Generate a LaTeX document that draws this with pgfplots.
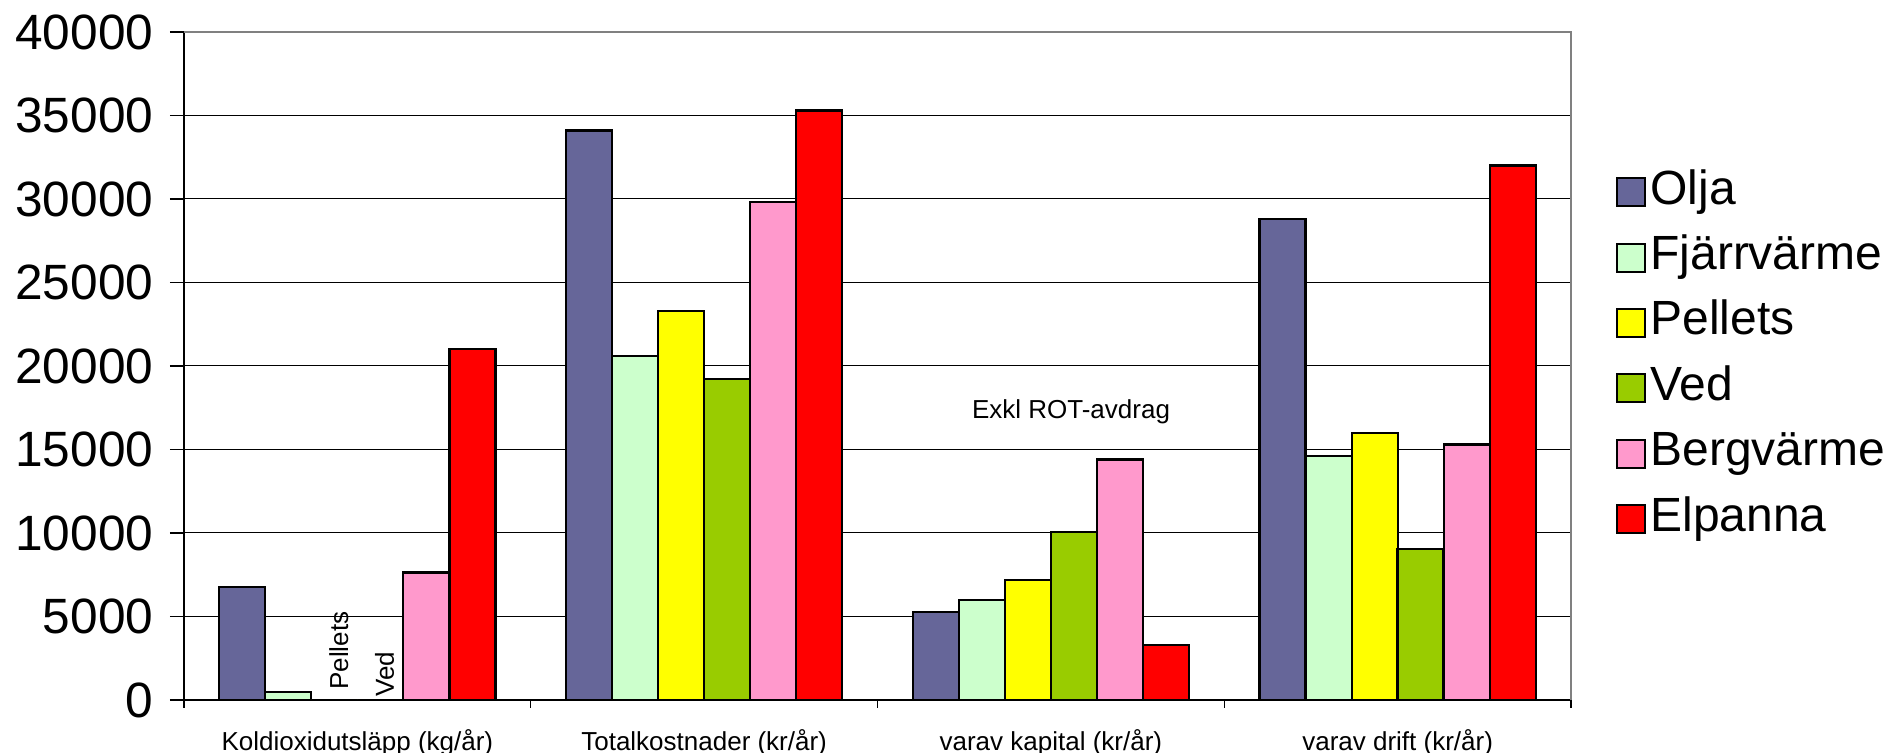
\documentclass[border=0pt]{standalone}
\usepackage{fontspec}
\setmainfont{Liberation Sans}
\usepackage{pgfplots}
\usepackage{pgfplotstable}
\pgfplotsset{compat=1.18}

\definecolor{OljaColor}{HTML}{666699}
\definecolor{FjarrColor}{HTML}{CCFFCC}
\definecolor{PelletsColor}{HTML}{FFFF00}
\definecolor{VedColor}{HTML}{99CC00}
\definecolor{BergColor}{HTML}{FF99CC}
\definecolor{ElColor}{HTML}{FF0000}

% groups: 0 Koldioxidutslapp, 1 Totalkostnader, 2 varav kapital, 3 varav drift
\pgfplotstableread{
x olja  fjarr pellets ved   berg  el
0 6750  500   0       0     7630  21000
1 34100 20600 23300   19200 29800 35300
2 5250  6000  7200    10050 14400 3300
3 28800 14600 16000   9050  15300 32000
}\datatable

\begin{document}
\begin{tikzpicture}
  \useasboundingbox (0,0) rectangle (947.5pt,376.5pt);
  \begin{axis}[
    at={(92pt,26.5pt)}, anchor=south west,
    scale only axis, width=693.5pt, height=334pt,
    xmin=-0.5, xmax=3.5, ymin=0, ymax=40000,
    ytick distance=5000,
    scaled y ticks=false,
    ybar, bar width=0.1327,
    xtick={0,1,2,3},
    xticklabels={Koldioxidutsläpp (kg/år), Totalkostnader (kr/år), varav kapital (kr/år), varav drift (kr/år)},
    minor xtick={-0.5,0.5,1.5,2.5,3.5},
    major x tick style={draw=none},
    minor tick length=4pt,
    major tick length=7pt,
    tick align=outside,
    axis x line*=bottom, axis y line*=left,
    axis line style={black, line width=0.6pt, -},
    tick style={black, line width=0.6pt},
    ymajorgrids,
    grid style={black, line width=0.5pt},
    /pgf/number format/1000 sep={},
    /pgf/number format/assume math mode=true,
    yticklabel style={font=\fontsize{24.8}{29}\selectfont, xshift=-4.8pt},
    xticklabel style={font=\fontsize{13}{15}\selectfont, yshift=-4pt},
    legend image code/.code={\draw[#1, line width=1pt] (0pt,-7pt) rectangle (14pt,7pt);},
    legend cell align=left,
    legend style={draw=none, fill=none, at={(1.0324,0.5155)}, anchor=west,
      inner sep=0pt, row sep=6.7pt,
      nodes={font=\fontsize{24}{28}\selectfont, text height=17pt, text depth=5pt, inner sep=2pt}},
    clip=false,
  ]
    \addplot[fill=OljaColor, draw=black, line width=1.1pt, bar shift=-0.332] table[x=x, y=olja]{\datatable};
    \addlegendentry{Olja}
    \addplot[fill=FjarrColor, draw=black, line width=1.1pt, bar shift=-0.199] table[x=x, y=fjarr]{\datatable};
    \addlegendentry{Fjärrvärme}
    \addplot[fill=PelletsColor, draw=black, line width=1.1pt, bar shift=-0.066] table[x=x, y=pellets]{\datatable};
    \addlegendentry{Pellets}
    \addplot[fill=VedColor, draw=black, line width=1.1pt, bar shift=0.066] table[x=x, y=ved]{\datatable};
    \addlegendentry{Ved}
    \addplot[fill=BergColor, draw=black, line width=1.1pt, bar shift=0.199] table[x=x, y=berg]{\datatable};
    \addlegendentry{Bergvärme}
    \addplot[fill=ElColor, draw=black, line width=1.1pt, bar shift=0.332] table[x=x, y=el]{\datatable};
    \addlegendentry{Elpanna}

    \draw[gray, line width=0.6pt] (rel axis cs:0,1) -- (rel axis cs:1,1) -- (rel axis cs:1,0);
    \node[rotate=90, anchor=base west, inner sep=0pt, font=\fontsize{13}{15}\selectfont] at (axis cs:-0.027,600) {Pellets};
    \node[rotate=90, anchor=base west, inner sep=0pt, font=\fontsize{13}{15}\selectfont] at (axis cs:0.1056,180) {Ved};
    \node[anchor=base, inner sep=0pt, font=\fontsize{13}{15}\selectfont] at (axis cs:2.058,16826) {Exkl ROT-avdrag};
  \end{axis}
\end{tikzpicture}
\end{document}
